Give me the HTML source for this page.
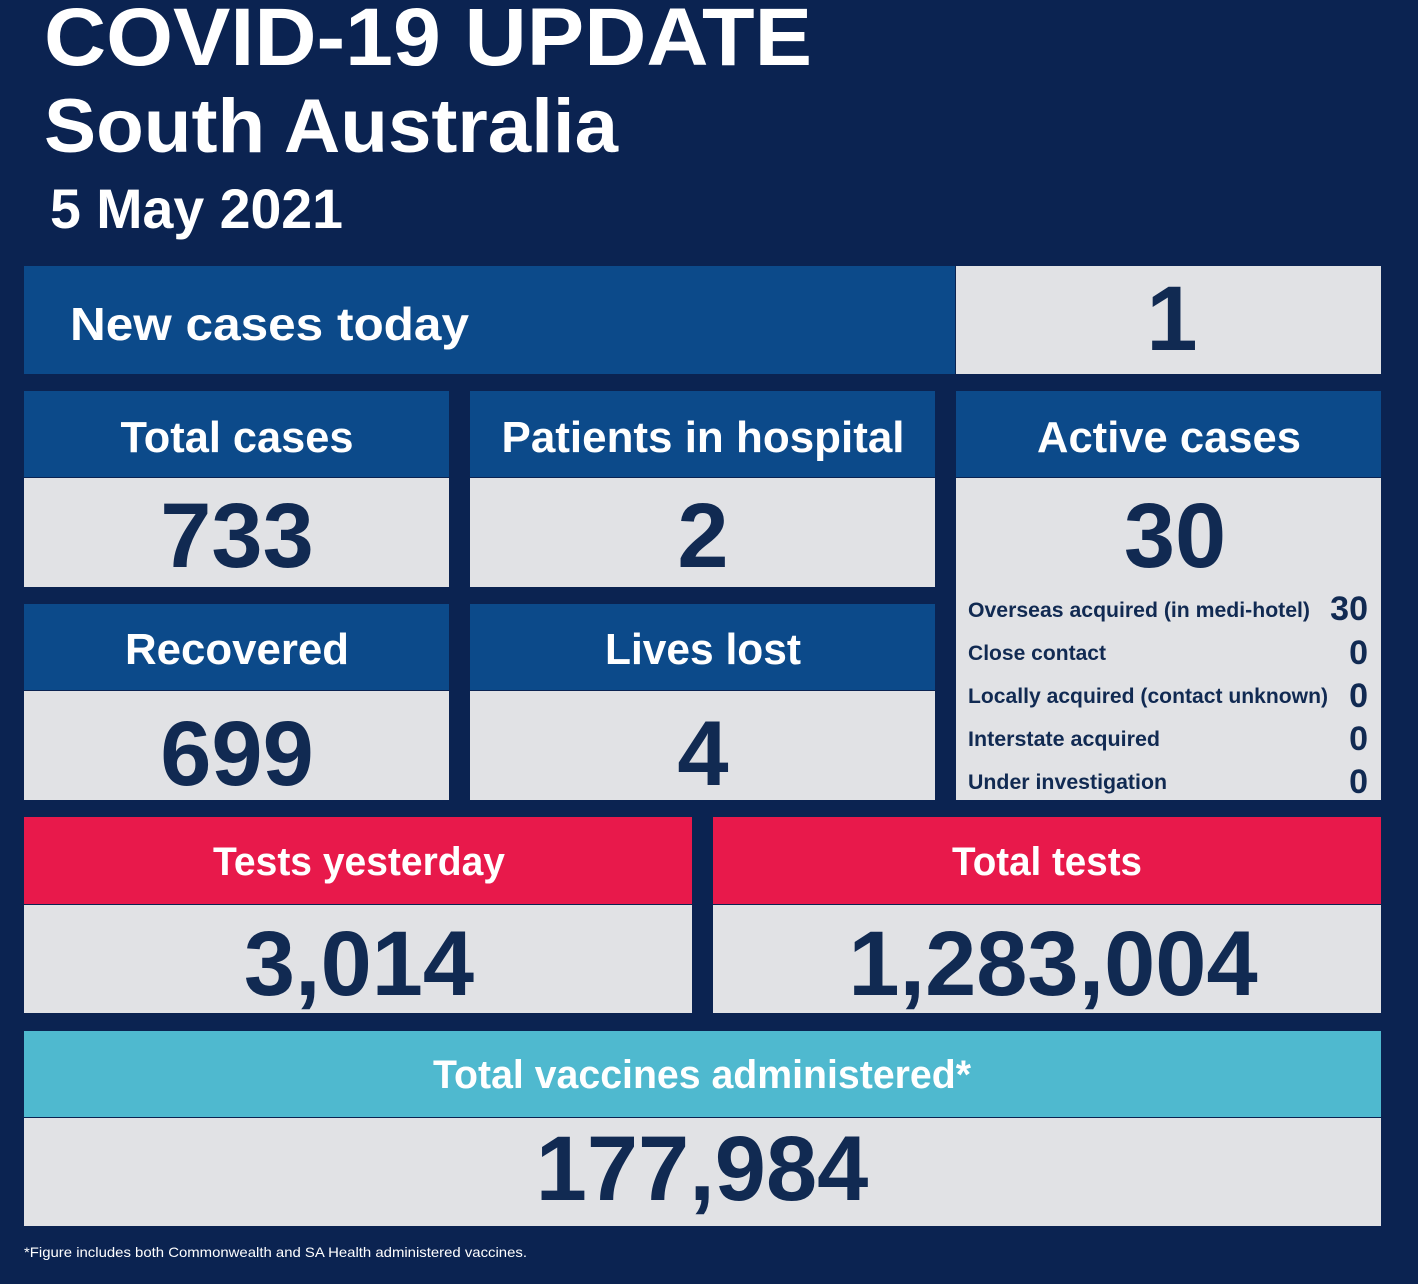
<!DOCTYPE html>
<html><head><meta charset="utf-8"><style>
html,body{margin:0;padding:0;background:#0b2351;}
svg{display:block}
text{font-family:"Liberation Sans",sans-serif;font-weight:bold}
</style></head><body>
<svg width="1418" height="1284" viewBox="0 0 1418 1284" xmlns="http://www.w3.org/2000/svg">
<rect width="1418" height="1284" fill="#0b2351"/>
<text x="44" y="65" font-size="82" fill="#fff" textLength="768" lengthAdjust="spacingAndGlyphs">COVID-19 UPDATE</text>
<text x="44" y="152" font-size="76" fill="#fff" textLength="574" lengthAdjust="spacingAndGlyphs">South Australia</text>
<text x="50" y="228" font-size="56" fill="#fff" textLength="293" lengthAdjust="spacingAndGlyphs">5 May 2021</text>

<!-- row1 -->
<rect x="24" y="266" width="931" height="108" fill="#0c4a8a"/>
<rect x="956" y="266" width="425" height="108" fill="#e1e2e5"/>
<text x="70" y="340" font-size="46" fill="#fff" textLength="399" lengthAdjust="spacingAndGlyphs">New cases today</text>
<text x="1172" y="350" font-size="92" fill="#112a52" text-anchor="middle">1</text>

<!-- row2 -->
<rect x="24" y="391" width="425" height="86" fill="#0c4a8a"/>
<rect x="24" y="478" width="425" height="109" fill="#e1e2e5"/>
<rect x="470" y="391" width="465" height="86" fill="#0c4a8a"/>
<rect x="470" y="478" width="465" height="109" fill="#e1e2e5"/>
<rect x="956" y="391" width="425" height="86" fill="#0c4a8a"/>
<rect x="956" y="478" width="425" height="322" fill="#e1e2e5"/>
<text x="237" y="452" font-size="44" fill="#fff" text-anchor="middle" textLength="233" lengthAdjust="spacingAndGlyphs">Total cases</text>
<text x="703" y="452" font-size="44" fill="#fff" text-anchor="middle" textLength="403" lengthAdjust="spacingAndGlyphs">Patients in hospital</text>
<text x="1169" y="452" font-size="44" fill="#fff" text-anchor="middle" textLength="264" lengthAdjust="spacingAndGlyphs">Active cases</text>
<text x="237" y="567" font-size="92" fill="#112a52" text-anchor="middle">733</text>
<text x="703" y="567" font-size="92" fill="#112a52" text-anchor="middle">2</text>
<text x="1175" y="567" font-size="92" fill="#112a52" text-anchor="middle">30</text>

<!-- row3 -->
<rect x="24" y="604" width="425" height="86" fill="#0c4a8a"/>
<rect x="24" y="691" width="425" height="109" fill="#e1e2e5"/>
<rect x="470" y="604" width="465" height="86" fill="#0c4a8a"/>
<rect x="470" y="691" width="465" height="109" fill="#e1e2e5"/>
<text x="237" y="664" font-size="44" fill="#fff" text-anchor="middle" textLength="224" lengthAdjust="spacingAndGlyphs">Recovered</text>
<text x="703" y="664" font-size="44" fill="#fff" text-anchor="middle" textLength="196" lengthAdjust="spacingAndGlyphs">Lives lost</text>
<text x="237" y="785" font-size="92" fill="#112a52" text-anchor="middle">699</text>
<text x="703" y="785" font-size="92" fill="#112a52" text-anchor="middle">4</text>

<g font-size="21" fill="#112a52">
<text x="968" y="617" textLength="342" lengthAdjust="spacingAndGlyphs">Overseas acquired (in medi-hotel)</text>
<text x="968" y="660" textLength="138" lengthAdjust="spacingAndGlyphs">Close contact</text>
<text x="968" y="703" textLength="360" lengthAdjust="spacingAndGlyphs">Locally acquired (contact unknown)</text>
<text x="968" y="746" textLength="192" lengthAdjust="spacingAndGlyphs">Interstate acquired</text>
<text x="968" y="789" textLength="199" lengthAdjust="spacingAndGlyphs">Under investigation</text>
</g>
<g font-size="34" fill="#112a52" text-anchor="end">
<text x="1368" y="620">30</text>
<text x="1368" y="664">0</text>
<text x="1368" y="707">0</text>
<text x="1368" y="750">0</text>
<text x="1368" y="793">0</text>
</g>

<!-- row4 -->
<rect x="24" y="817" width="668" height="87" fill="#e8194b"/>
<rect x="24" y="905" width="668" height="108" fill="#e1e2e5"/>
<rect x="713" y="817" width="668" height="87" fill="#e8194b"/>
<rect x="713" y="905" width="668" height="108" fill="#e1e2e5"/>
<text x="359" y="875" font-size="40" fill="#fff" text-anchor="middle" textLength="292" lengthAdjust="spacingAndGlyphs">Tests yesterday</text>
<text x="1047" y="875" font-size="40" fill="#fff" text-anchor="middle" textLength="190" lengthAdjust="spacingAndGlyphs">Total tests</text>
<text x="359" y="995" font-size="92" fill="#112a52" text-anchor="middle">3,014</text>
<text x="1053" y="995" font-size="92" fill="#112a52" text-anchor="middle">1,283,004</text>

<!-- row5 -->
<rect x="24" y="1031" width="1357" height="86" fill="#4fb9cf"/>
<rect x="24" y="1118" width="1357" height="108" fill="#e1e2e5"/>
<text x="702" y="1088" font-size="40" fill="#fff" text-anchor="middle" textLength="538" lengthAdjust="spacingAndGlyphs">Total vaccines administered*</text>
<text x="702" y="1200" font-size="92" fill="#112a52" text-anchor="middle">177,984</text>

<text x="24" y="1257" font-size="14" font-weight="normal" fill="#fff" style="font-weight:normal" textLength="503" lengthAdjust="spacingAndGlyphs">*Figure includes both Commonwealth and SA Health administered vaccines.</text>
</svg>
</body></html>
